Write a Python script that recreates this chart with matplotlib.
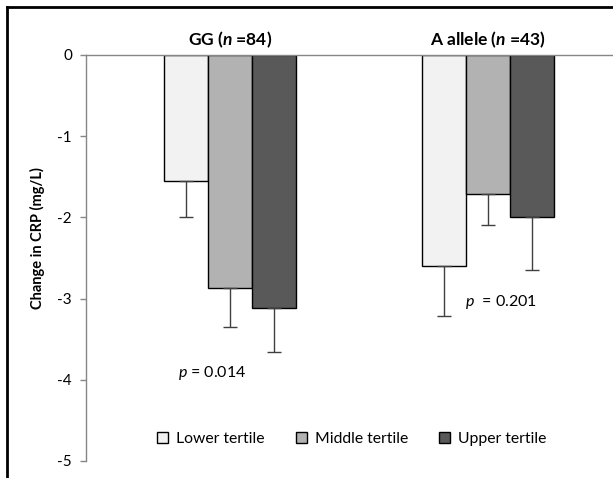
import matplotlib
matplotlib.use("Agg")
import matplotlib.pyplot as plt
import numpy as np
from matplotlib.lines import Line2D

plt.rcParams['font.family'] = ['Lato', 'DejaVu Sans']
plt.rcParams['mathtext.fontset'] = 'custom'
plt.rcParams['mathtext.rm'] = 'Lato'
plt.rcParams['mathtext.it'] = 'Lato:italic'
plt.rcParams['mathtext.bf'] = 'Lato:bold'
plt.rcParams['mathtext.bfit'] = 'Lato:bold:italic'

# data
groups = ['GG ($\\mathbfit{n}$ =84)', 'A allele ($\\mathbfit{n}$ =43)']
series = ['Lower tertile', 'Middle tertile', 'Upper tertile']
lower = [-1.55, -2.60]
middle = [-2.87, -1.71]
upper = [-3.11, -1.99]
lower_err = [0.44, 0.62]
middle_err = [0.48, 0.38]
upper_err = [0.55, 0.66]
p_labels = ['$\\mathit{p}$ = 0.014', '$\\mathit{p}$  = 0.201']
p_pos = [(-0.07, -3.92), (1.05, -3.04)]

colors = ['#f2f2f2', '#b2b2b2', '#595959']
grey = '#868686'

fig = plt.figure(figsize=(6.13, 4.78), dpi=100)
ax = fig.add_axes([86/613, 1-461/478, 1-86/613, (461-55)/478])

x = np.arange(len(groups))
w = 0.1705
vals = [lower, middle, upper]
errs = [lower_err, middle_err, upper_err]
for i in range(3):
    pos = x + (i-1)*w
    ax.bar(pos, vals[i], w, color=colors[i], edgecolor='black', linewidth=1.0,
           label=series[i], zorder=2)
    ax.errorbar(pos, vals[i], yerr=[errs[i], np.zeros(2)], fmt='none',
                ecolor='#404040', elinewidth=1.0, capsize=5, capthick=1.0, zorder=3)

ax.set_xlim(-0.558, 1.4845)
ax.set_ylim(-5, 0)
ax.set_yticks([0, -1, -2, -3, -4, -5])
ax.set_yticklabels(['0', '-1', '-2', '-3', '-4', '-5'])
ax.set_xticks([])
for s in ['right', 'bottom']:
    ax.spines[s].set_visible(False)
ax.spines['left'].set_color(grey)
ax.spines['top'].set_color(grey)
ax.spines['left'].set_linewidth(1.0)
ax.spines['top'].set_linewidth(1.0)
ax.tick_params(axis='y', colors=grey, labelcolor='black', length=4, width=1,
               labelsize=11, pad=6)
ax.set_ylabel('Change in CRP (mg/L)', fontsize=10.5, fontweight='bold')
ax.yaxis.set_label_coords(-0.078, 0.549)

for xi, g in zip(x, groups):
    ax.text(xi, 0.19, g, ha='center', va='center', fontsize=12.5, fontweight='bold')
for (px, py), t in zip(p_pos, p_labels):
    ax.text(px, py, t, ha='center', va='center', fontsize=11.5)

ax.legend(loc='center', bbox_to_anchor=((352-86)/527, (461-439)/406), ncol=3,
          frameon=False, fontsize=11.3, handlelength=0.7, handleheight=0.7,
          handletextpad=0.5, columnspacing=2.0)

# outer frame
fig.add_artist(Line2D([7/613, 7/613], [0, 1-7/478], color='black', lw=2,
                      transform=fig.transFigure))
fig.add_artist(Line2D([7/613, 1], [1-7/478, 1-7/478], color='black', lw=2,
                      transform=fig.transFigure))

fig.savefig('out.png', dpi=100)
